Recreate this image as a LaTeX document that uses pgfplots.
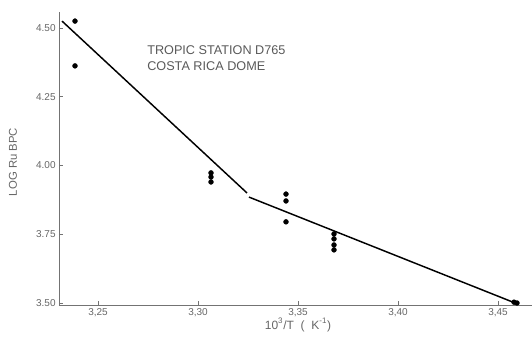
\documentclass[border=0pt]{standalone}
\usepackage{fontspec}
\setmainfont{Liberation Sans}
\usepackage{pgfplots}
\pgfplotsset{compat=1.18}
\begin{document}
\begin{tikzpicture}[x=0.75pt,y=0.75pt]
\useasboundingbox (-59,-33) rectangle (473,305);
\begin{axis}[
  at={(0,0)}, anchor=origin,
  scale only axis,
  width=354.75pt, height=219.75pt,
  xmin=3.2305, xmax=3.467,
  ymin=3.4927, ymax=4.558,
  axis lines=left,
  axis line style={black!55, -, line width=0.6pt},
  tick style={black!55, line width=0.5pt},
  tick align=inside,
  major tick length=3pt,
  xtick={3.25,3.30,3.35,3.40,3.45},
  ytick={3.50,3.75,4.00,4.25,4.50},
  /pgf/number format/assume math mode=true,
  xticklabel style={/pgf/number format/.cd, fixed, fixed zerofill, precision=2, use comma, /tikz/.cd, font=\fontsize{7.5}{8}\selectfont, text=black!60, yshift=1pt},
  yticklabel style={/pgf/number format/.cd, fixed, fixed zerofill, precision=2, /tikz/.cd, font=\fontsize{7.5}{8}\selectfont, text=black!60, xshift=1pt},
  clip=false,
]
\addplot[only marks, mark=*, mark size=1.8pt, black] coordinates {
  (3.2385,4.525) (3.2385,4.362)
  (3.3065,3.973) (3.3065,3.958) (3.3065,3.940)
  (3.344,3.896) (3.344,3.871) (3.344,3.795)
  (3.368,3.751) (3.368,3.733) (3.368,3.711) (3.368,3.693)
  (3.458,3.503) (3.4595,3.500)
};
\addplot[black, line width=1.1pt] coordinates {(3.232,4.525) (3.3245,3.90)};
\addplot[black, line width=1.1pt] coordinates {(3.3255,3.885) (3.4575,3.503)};
\end{axis}
\node[rotate=90, font=\fontsize{8.5}{9}\selectfont, text=black!60] at (-46,143) {LOG Ru BPC};
\node[font=\fontsize{9}{10}\selectfont, text=black!60] at (239,-20) {10\textsuperscript{3}/T \ ( \ K\textsuperscript{-1})};
\node[anchor=west, align=left, font=\fontsize{9.5}{12.5}\selectfont, text=black!65, inner sep=0pt] at (88,247) {TROPIC STATION D765\\COSTA RICA DOME};
\end{tikzpicture}
\end{document}
